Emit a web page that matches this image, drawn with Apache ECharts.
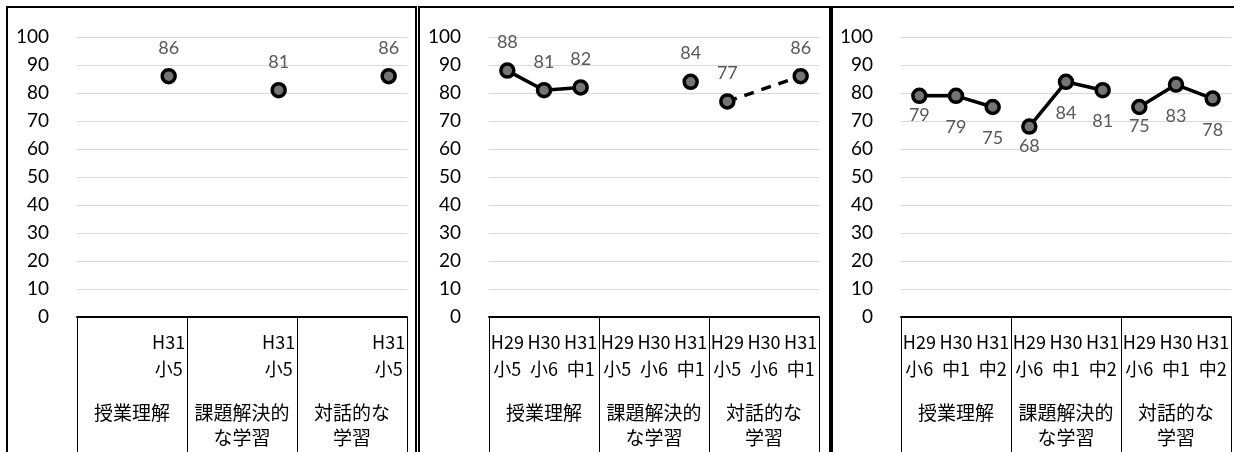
<!DOCTYPE html>
<html>
<head>
<meta charset="utf-8">
<script src="https://cdn.jsdelivr.net/npm/echarts@6/dist/echarts.min.js"></script>
<style>
  html, body { margin: 0; padding: 0; background: #fff; }
  #chart { width: 1234px; height: 452px; }
</style>
</head>
<body>
<div id="chart"></div>
<script>
  // 大項目
  const groups = ['授業理解', '課題解決的\nな学習', '対話的な\n学習']
  // 年度・学年（左のグラフから順に）
  const years1 = ['', '', 'H31']
  const grades1 = ['', '', '小5']
  const years2 = ['H29', 'H30', 'H31']
  const grades2 = ['小5', '小6', '中1']
  const years3 = ['H29', 'H30', 'H31']
  const grades3 = ['小6', '中1', '中2']
  // 値 大項目ごとに3つずつ（null は未実施）
  const values1 = [null, null, 86, null, null, 81, null, null, 86]
  const values2 = [88, 81, 82, null, null, 84, 77, null, 86]
  const values3 = [79, 79, 75, 68, 84, 81, 75, 83, 78]

  const panels = [
    { left: 77, years: years1, grades: grades1, values: values1, labelPos: 'top', dashed: [] },
    { left: 489, years: years2, grades: grades2, values: values2, labelPos: 'top', dashed: [2] },
    { left: 901, years: years3, grades: grades3, values: values3, labelPos: 'bottom', dashed: [] }
  ]

  const cjk = '"Noto Sans CJK JP", sans-serif'
  const num = 'Lato, "Open Sans", sans-serif'

  const grid = []
  const xAxis = []
  const yAxis = []
  const series = []

  panels.forEach((p, pi) => {
    grid.push({ left: p.left, width: 330, top: 37, height: 280, outerBoundsMode: 'none' })

    const cats = []
    groups.forEach((g, gi) => p.years.forEach((y, yi) => cats.push(gi + '-' + yi)))

    // 年度・学年の行
    xAxis.push({
      type: 'category',
      gridIndex: pi,
      data: cats,
      axisLine: { lineStyle: { color: '#000', width: 2 } },
      axisTick: { show: false },
      axisLabel: {
        interval: 0,
        margin: 12,
        fontSize: 18,
        lineHeight: 27,
        color: '#000',
        fontFamily: cjk,
        formatter: (v, i) => {
          const k = i % 3
          return p.years[k] ? p.years[k] + '\n' + p.grades[k] : ''
        }
      }
    })
    // 大項目の行（目盛り線で枠を作る）
    xAxis.push({
      type: 'category',
      gridIndex: pi,
      position: 'bottom',
      data: groups,
      axisLine: { show: false },
      axisTick: { show: true, interval: 0, length: 135, lineStyle: { color: '#000', width: 1 } },
      axisLabel: { interval: 0, margin: 83, fontSize: 19, lineHeight: 25, color: '#000', fontFamily: cjk }
    })

    yAxis.push({
      type: 'value',
      gridIndex: pi,
      min: 0,
      max: 100,
      interval: 10,
      axisLine: { show: false },
      axisTick: { show: false },
      axisLabel: { margin: 28, fontSize: 19, color: '#000', fontFamily: num },
      splitLine: { lineStyle: { color: '#d9d9d9', width: 1 } }
    })

    groups.forEach((g, gi) => {
      const data = p.values.map((v, i) => {
        if (Math.floor(i / 3) !== gi || v === null) return null
        if (p.labelPos === 'bottom') {
          return { value: v, label: { distance: i % 3 === 0 ? 2 : 14 } }
        }
        return v
      })
      series.push({
        type: 'line',
        xAxisIndex: pi * 2,
        yAxisIndex: pi,
        data: data,
        connectNulls: true,
        symbol: 'circle',
        symbolSize: 13,
        itemStyle: { color: '#747474', borderColor: '#000', borderWidth: 3.5 },
        lineStyle: { color: '#000', width: 3.5, type: p.dashed.includes(gi) ? [10, 8] : 'solid' },
        label: {
          show: true,
          position: p.labelPos,
          distance: 11,
          color: '#595959',
          fontSize: 18,
          fontFamily: num
        },
        animation: false
      })
    })
  })

  const chart = echarts.init(document.getElementById('chart'))
  chart.setOption({
    animation: false,
    grid: grid,
    xAxis: xAxis,
    yAxis: yAxis,
    series: series,
    graphic: [
      { type: 'rect', shape: { x: 7, y: 7, width: 409, height: 500 }, style: { fill: 'none', stroke: '#000', lineWidth: 2 } },
      { type: 'rect', shape: { x: 419, y: 7, width: 411, height: 500 }, style: { fill: 'none', stroke: '#000', lineWidth: 2 } },
      { type: 'rect', shape: { x: 832, y: 7, width: 420, height: 500 }, style: { fill: 'none', stroke: '#000', lineWidth: 2 } }
    ]
  })
</script>
</body>
</html>
